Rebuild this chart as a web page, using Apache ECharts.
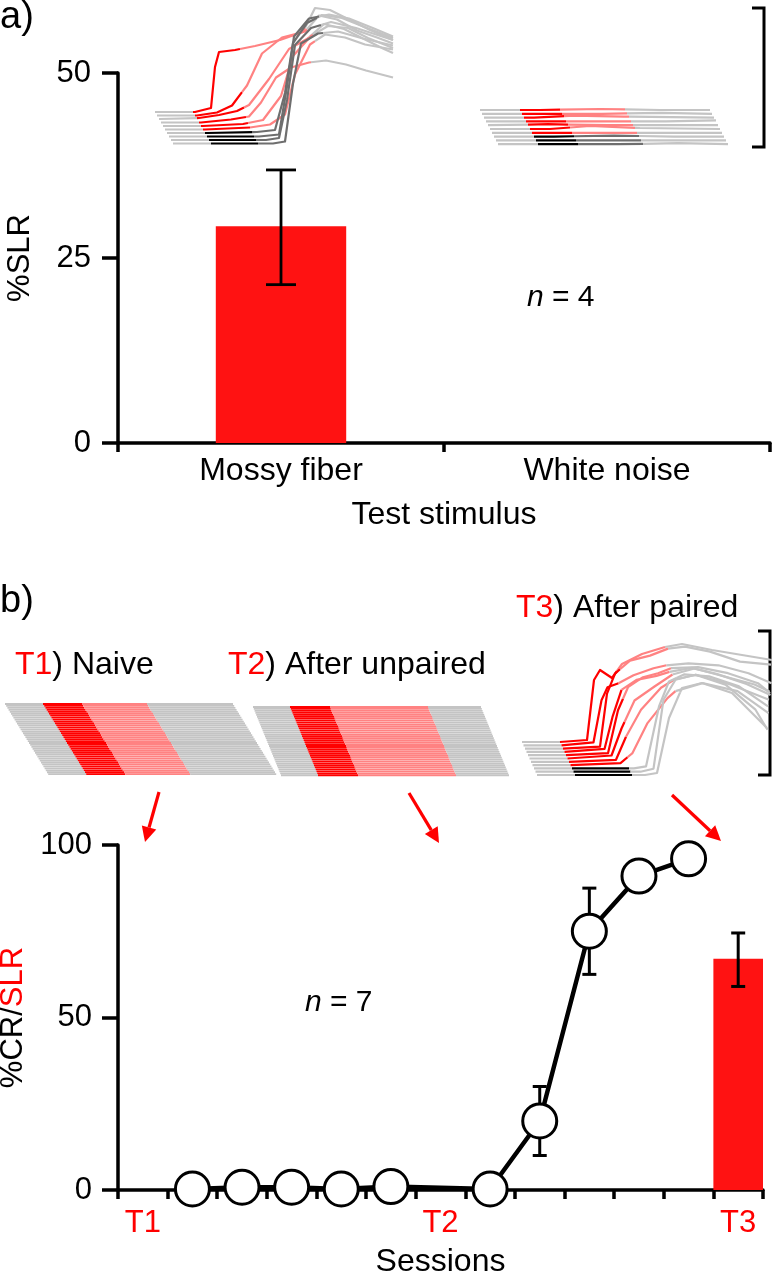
<!DOCTYPE html>
<html><head><meta charset="utf-8">
<script src="https://cdn.jsdelivr.net/npm/echarts@6/dist/echarts.min.js"></script>
<style>html,body{margin:0;padding:0;background:#fff}#c{width:773px;height:1280px}</style>
</head><body><div id="c"></div><script>
// ---------- data ----------
const stimulusCategories = ['Mossy fiber', 'White noise'];
const slrMean = [29.3, null];
const slrErr = [[0, 21.4, 36.9]];            // [category, low, high]
const yTicksA = [0, 25, 50];

const sessionLabels = ['T1', '', '', '', '', '', 'T2', '', '', '', '', '', 'T3'];
const crValues = [null, 0.3, 0.8, 0.8, 0.3, 1.0, null, 0.3, 20, 75, 91, 96, null];
const crErr = [[8, 10, 30], [9, 62.5, 87.5]];
const t3SlrValues = [null, null, null, null, null, null, null, null, null, null, null, null, 67];
const t3SlrErr = [[12, 59, 74.5]];
const yTicksB = [0, 50, 100];

// example traces, [time, amplitude]
const mfTraces = [
  [[0,0],[40,0],[56,4],[60,45],[64,60],[80,62],[100,66],[125,72],[148,80],[160,104],[175,102],[195,92],[215,82],[238,72]],
  [[0,0],[40,0],[60,3],[75,10],[90,30],[105,62],[125,78],[148,84],[162,100],[180,96],[200,85],[220,78],[236,72]],
  [[0,0],[40,1],[60,4],[78,8],[90,14],[110,40],[130,70],[148,80],[165,95],[185,90],[205,80],[225,70],[234,66]],
  [[0,0],[40,0],[70,3],[88,6],[100,20],[115,45],[130,55],[148,60],[165,62],[185,58],[205,52],[232,45]],
  [[0,0],[40,0],[80,2],[100,6],[118,30],[130,70],[148,90],[165,100],[185,98],[205,88],[230,78]],
  [[0,0],[40,0],[85,2],[105,5],[120,15],[130,55],[145,85],[160,95],[180,92],[200,85],[228,80]],
  [[0,0],[40,0],[90,1],[108,3],[118,40],[126,90],[140,110],[155,118],[175,115],[200,105],[226,95]],
  [[0,0],[40,0],[90,0],[110,2],[118,50],[125,100],[140,118],[160,122],[180,118],[205,108],[224,100]],
  [[0,0],[40,0],[95,0],[108,2],[116,40],[124,95],[140,112],[160,118],[185,112],[222,100]],
  [[0,0],[40,0],[100,0],[112,2],[120,60],[128,100],[145,110],[165,112],[190,105],[220,98]]
];
const mfKinds = ['cr','cr','cr','cr','cr','cr','nocr','nocr','nocr','nocr'];
const mfEpochs = [38, 85, 150];

const wnTraces = [
  [[0,0],[60,0],[120,1],[180,0],[230,0]],
  [[0,0],[60,0],[120,0],[180,1],[230,0]],
  [[0,0],[50,0],[90,2],[140,1],[230,0]],
  [[0,0],[60,0],[120,0],[180,0],[230,1]],
  [[0,0],[60,1],[120,0],[180,0],[230,0]],
  [[0,0],[60,0],[100,3],[150,1],[230,0]],
  [[0,0],[60,0],[120,0],[180,0],[230,0]],
  [[0,0],[60,0],[120,1],[180,0],[230,0]],
  [[0,0],[60,0],[120,0],[180,0],[230,0]],
  [[0,0],[60,0],[120,0],[180,1],[230,0]]
];
const wnKinds = ['cr','cr','cr','cr','cr','cr','cr','nocr','nocr','nocr'];
const wnEpochs = [40, 80, 145];

const t3Traces = [
  [[0,0],[38,0],[65,2],[72,62],[78,72],[90,64],[100,78],[120,88],[143,95],[160,98],[190,92],[220,87],[250,82]],
  [[0,0],[38,0],[70,3],[78,45],[84,58],[95,62],[110,70],[130,77],[143,80],[165,82],[195,80],[225,72],[248,62]],
  [[0,0],[38,0],[75,2],[82,55],[90,75],[105,88],[125,93],[143,100],[160,102],[185,97],[215,87],[246,84]],
  [[0,0],[38,0],[78,3],[86,35],[95,62],[110,72],[130,76],[143,80],[165,84],[190,78],[220,68],[244,57]],
  [[0,0],[38,0],[80,2],[90,45],[100,68],[115,78],[130,82],[143,87],[170,88],[200,82],[230,72],[242,62]],
  [[0,0],[38,0],[82,3],[92,30],[105,58],[125,72],[143,84],[165,90],[195,82],[225,74],[240,67]],
  [[0,0],[38,0],[85,2],[95,25],[110,52],[130,74],[143,82],[165,87],[200,77],[238,62]],
  [[0,0],[38,0],[88,2],[100,12],[115,42],[135,67],[143,74],[170,82],[205,74],[236,52]],
  [[0,0],[38,0],[100,0],[112,2],[125,62],[135,87],[150,94],[175,92],[205,82],[234,62]],
  [[0,0],[38,0],[105,0],[118,3],[128,72],[140,92],[160,97],[190,87],[220,62],[232,42]],
  [[0,0],[38,0],[108,0],[120,2],[132,57],[145,87],[165,92],[195,82],[230,47]]
];
const t3Kinds = ['cr','cr','cr','cr','cr','cr','cr','cr','gray','gray','gray'];
const t3Epochs = [38, 95, 143];

const naiveTrialCount = 37;
const unpairedTrialCount = 36;
const naiveEpochs = [38, 77, 142];
const unpairedEpochs = [37, 77, 175];
const rasterTrace = [[0,0],[228,0]];

// ---------- helpers ----------
const FONT = '"Liberation Sans", Arial, Helvetica, sans-serif';
const RED = '#ff0000';
const BAR_RED = '#ff1212';
const palettes = {
  cr:   ['#c4c4c4', '#ff0000', '#ff8282', '#c4c4c4'],
  nocr: ['#c4c4c4', '#000000', '#6e6e6e', '#c4c4c4'],
  gray: ['#c4c4c4', '#000000', '#c4c4c4', '#c4c4c4']
};

function interp(tr, t) {
  if (t <= tr[0][0]) return [t, tr[0][1]];
  for (let k = 1; k < tr.length; k++) {
    if (t <= tr[k][0]) {
      const a = tr[k-1], b = tr[k];
      const f = (t - a[0]) / (b[0] - a[0]);
      return [t, a[1] + f * (b[1] - a[1])];
    }
  }
  return [t, tr[tr.length-1][1]];
}

function traceSeries(gridIdx, traces, kinds, epochs, dx, dy, lw) {
  return {
    type: 'custom', xAxisIndex: gridIdx, yAxisIndex: gridIdx, silent: true, z: 1,
    data: traces.map((_, i) => [i, 0]),
    renderItem: function (params, api) {
      const i = api.value(0);
      const tr = traces[i];
      const pal = palettes[kinds[i]];
      const bounds = [tr[0][0], epochs[0], epochs[1], epochs[2], tr[tr.length-1][0]];
      const children = [];
      for (let s = 0; s < 4; s++) {
        const a = bounds[s], b = bounds[s+1];
        if (b <= a) continue;
        const pts = [interp(tr, a)];
        tr.forEach(p => { if (p[0] > a && p[0] < b) pts.push(p); });
        pts.push(interp(tr, b));
        children.push({
          type: 'polyline',
          shape: { points: pts.map(p => api.coord([p[0] + i * dx, p[1] - i * dy])) },
          style: { stroke: pal[s], lineWidth: lw, fill: null, lineJoin: 'round' }
        });
      }
      return { type: 'group', children: children };
    }
  };
}

function errSeries(gridIdx, data, half, lw, z) {
  return {
    type: 'custom', xAxisIndex: gridIdx, yAxisIndex: gridIdx, silent: true, z: z,
    data: data,
    renderItem: function (params, api) {
      const lo = api.coord([api.value(0), api.value(1)]);
      const hi = api.coord([api.value(0), api.value(2)]);
      const st = { stroke: '#000', lineWidth: lw };
      return { type: 'group', children: [
        { type: 'line', shape: { x1: lo[0], y1: lo[1], x2: hi[0], y2: hi[1] }, style: st },
        { type: 'line', shape: { x1: lo[0]-half, y1: lo[1], x2: lo[0]+half, y2: lo[1] }, style: st },
        { type: 'line', shape: { x1: hi[0]-half, y1: hi[1], x2: hi[0]+half, y2: hi[1] }, style: st }
      ]};
    }
  };
}

function hiddenGrid(left, baseY, width, up, down) {
  return { left: left, top: baseY - up, width: width, height: up + down, outerBoundsMode: 'none', containLabel: false };
}
const traceGroups = [
  // [left, baseY, width, up, down]
  [155, 112, 260, 112, 40],
  [480, 110, 270, 20, 45],
  [522, 742, 260, 105, 40],
  [5, 704, 310, 5, 80],
  [253, 707, 310, 5, 80]
];

function arrow(x1, y1, x2, y2) {
  const ang = Math.atan2(y2 - y1, x2 - x1);
  const L = 15, W = 7.5;
  const bx = x2 - L * Math.cos(ang), by = y2 - L * Math.sin(ang);
  const px = -Math.sin(ang) * W, py = Math.cos(ang) * W;
  return [
    { type: 'line', shape: { x1: x1, y1: y1, x2: bx, y2: by }, style: { stroke: RED, lineWidth: 3.2 } },
    { type: 'polygon', shape: { points: [[x2, y2], [bx + px, by + py], [bx - px, by - py]] }, style: { fill: RED } }
  ];
}
function scaleBar(x, y1, y2, w) {
  return { type: 'polyline', shape: { points: [[x - w, y1], [x, y1], [x, y2], [x - w, y2]] },
           style: { stroke: '#000', lineWidth: 3, fill: null } };
}
function txt(x, y, text, rich) {
  return { type: 'text', x: x, y: y, style: {
    text: text, rich: rich, font: '32px ' + FONT, fill: '#000', verticalAlign: 'middle'
  }};
}

const axisLineStyle = { color: '#000', width: 3.5 };
const richG = {
  r: { fill: RED, font: '32px ' + FONT },
  k: { fill: '#000', font: '32px ' + FONT },
  i: { fill: '#000', font: 'italic 30px ' + FONT },
  n: { fill: '#000', font: '30px ' + FONT },
  a: { fill: '#000', font: '38px ' + FONT }
};

const chart = echarts.init(document.getElementById('c'), null, { renderer: 'canvas' });

const grids = [
  { left: 118, top: 73, width: 652, height: 370, outerBoundsMode: 'none', containLabel: false },
  { left: 118, top: 845, width: 645, height: 345, outerBoundsMode: 'none', containLabel: false }
].concat(traceGroups.map(g => hiddenGrid(g[0], g[1], g[2], g[3], g[4])));

const xAxes = [
  {
    gridIndex: 0, type: 'category', data: stimulusCategories, boundaryGap: true,
    axisLine: { lineStyle: axisLineStyle },
    axisTick: { show: true, length: 9, lineStyle: { width: 3.5, color: '#000' } },
    axisLabel: { fontSize: 32, color: '#000', fontFamily: FONT, margin: 12 },
    name: 'Test stimulus', nameLocation: 'middle', nameGap: 56,
    nameTextStyle: { fontSize: 32, color: '#000', fontFamily: FONT }
  },
  {
    gridIndex: 1, type: 'category', data: sessionLabels, boundaryGap: true,
    axisLine: { lineStyle: axisLineStyle },
    axisTick: { show: true, interval: 0, length: 9, lineStyle: { width: 3.5, color: '#000' } },
    axisLabel: { interval: 0, fontSize: 31, color: RED, fontFamily: FONT, margin: 18 },
    name: 'Sessions', nameLocation: 'middle', nameGap: 56,
    nameTextStyle: { fontSize: 32, color: '#000', fontFamily: FONT }
  }
].concat(traceGroups.map((g, k) => ({ gridIndex: k + 2, type: 'value', min: 0, max: g[2], show: false })));

const yAxes = [
  {
    gridIndex: 0, type: 'value', min: yTicksA[0], max: yTicksA[yTicksA.length-1], interval: yTicksA[1] - yTicksA[0],
    axisLine: { show: true, lineStyle: axisLineStyle },
    axisTick: { show: true, length: 16, lineStyle: { width: 3.5, color: '#000' } },
    splitLine: { show: false },
    axisLabel: { fontSize: 31, color: '#000', fontFamily: FONT, margin: 27 },
    name: '%SLR', nameLocation: 'middle', nameGap: 82,
    nameTextStyle: { fontSize: 31, color: '#000', fontFamily: FONT }
  },
  {
    gridIndex: 1, type: 'value', min: yTicksB[0], max: yTicksB[yTicksB.length-1], interval: yTicksB[1] - yTicksB[0],
    axisLine: { show: true, lineStyle: axisLineStyle },
    axisTick: { show: true, length: 16, lineStyle: { width: 3.5, color: '#000' } },
    splitLine: { show: false },
    axisLabel: { fontSize: 31, color: '#000', fontFamily: FONT, margin: 26 },
    name: '{k|%CR/}{r|SLR}', nameLocation: 'middle', nameGap: 82,
    nameTextStyle: { fontSize: 31, fontFamily: FONT, rich: {
      k: { color: '#000', fontSize: 31, fontFamily: FONT },
      r: { color: RED, fontSize: 31, fontFamily: FONT } } }
  }
].concat(traceGroups.map((g, k) => ({ gridIndex: k + 2, type: 'value', min: -g[4], max: g[3], show: false })));

const naiveRows = Array.from({ length: naiveTrialCount }, () => rasterTrace);
const unpairedRows = Array.from({ length: unpairedTrialCount }, () => rasterTrace);

const series = [
  { type: 'bar', xAxisIndex: 0, yAxisIndex: 0, data: slrMean, barWidth: '40%', itemStyle: { color: BAR_RED }, z: 2, silent: true },
  errSeries(0, slrErr, 15, 2.8, 3),
  { type: 'bar', xAxisIndex: 1, yAxisIndex: 1, data: t3SlrValues, barWidth: '100%', itemStyle: { color: BAR_RED }, z: 2, silent: true },
  errSeries(1, t3SlrErr, 7, 3, 3),
  errSeries(1, crErr, 7, 3, 3),
  { type: 'line', xAxisIndex: 1, yAxisIndex: 1, data: crValues, connectNulls: true, z: 5, silent: true,
    symbol: 'circle', symbolSize: 34, showAllSymbol: true,
    lineStyle: { color: '#000', width: 4.5 },
    itemStyle: { color: '#fff', borderColor: '#000', borderWidth: 3 } },
  traceSeries(2, mfTraces, mfKinds, mfEpochs, 2, 3.5, 2.2),
  traceSeries(3, wnTraces, wnKinds, wnEpochs, 2, 3.8, 2.2),
  traceSeries(4, t3Traces, t3Kinds, t3Epochs, 1.5, 3.3, 2.2),
  traceSeries(5, naiveRows, naiveRows.map(() => 'cr'), naiveEpochs, 1.2, 1.95, 1.8),
  traceSeries(6, unpairedRows, unpairedRows.map(() => 'cr'), unpairedEpochs, 0.8, 1.95, 1.8)
];

const graphics = [
  txt(0, 18, '{a|a)}', richG),
  txt(0, 602, '{a|b)}', richG),
  txt(527, 298, '{i|n}{n| = 4}', richG),
  txt(305, 1003, '{i|n}{n| = 7}', richG),
  txt(15, 665, '{r|T1}{k|) Naive}', richG),
  txt(228, 665, '{r|T2}{k|) After unpaired}', richG),
  txt(516, 608, '{r|T3}{k|) After paired}', richG),
  scaleBar(764, 8, 147, 12),
  scaleBar(770, 631, 775, 12)
].concat(arrow(159, 792, 145, 842), arrow(409, 793, 439, 843), arrow(672, 795, 721, 841));

chart.setOption({
  animation: false,
  backgroundColor: '#fff',
  textStyle: { fontFamily: FONT },
  grid: grids,
  xAxis: xAxes,
  yAxis: yAxes,
  series: series,
  graphic: { elements: graphics }
});
</script></body></html>
